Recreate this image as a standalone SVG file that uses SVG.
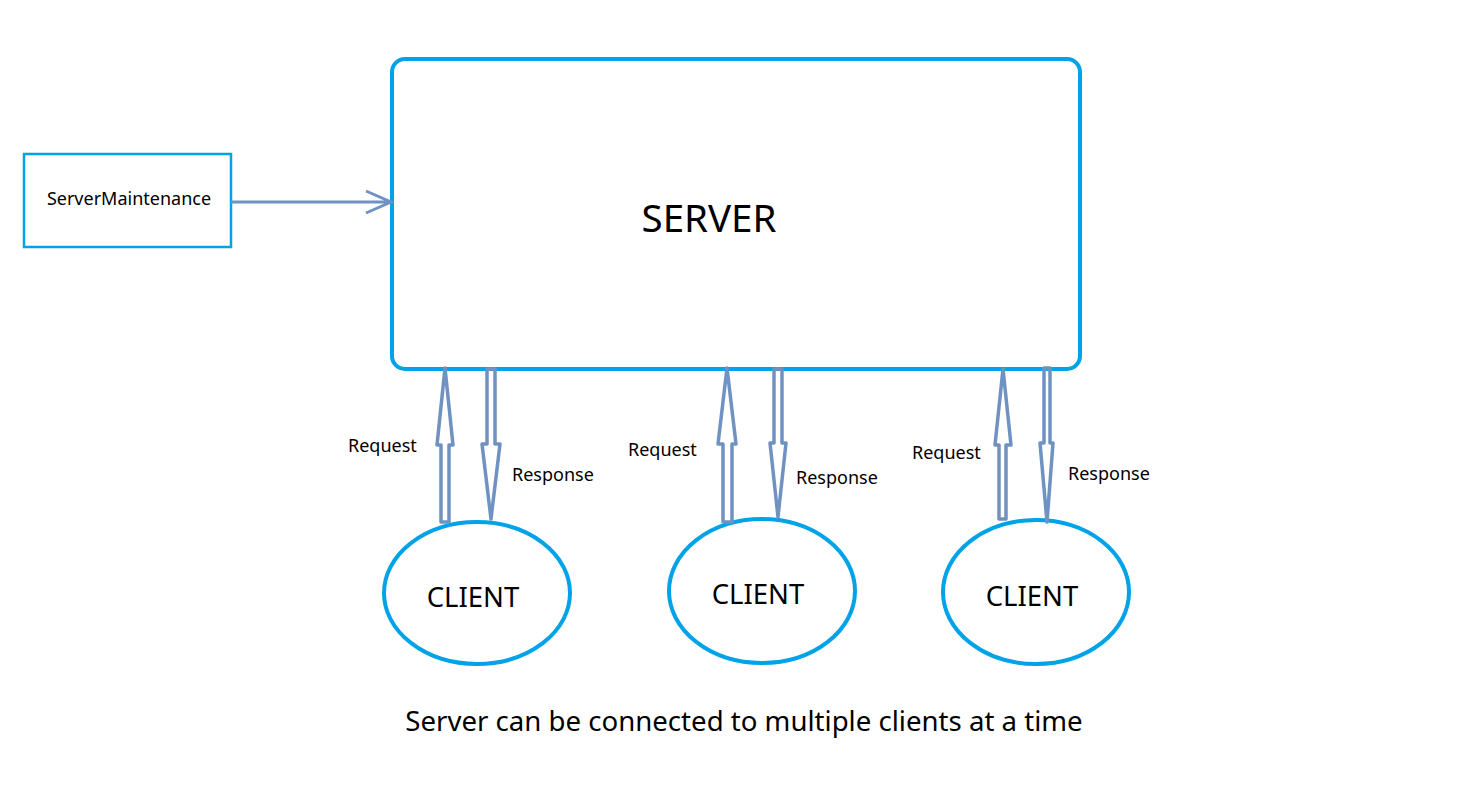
<svg xmlns="http://www.w3.org/2000/svg" width="1468" height="806" viewBox="0 0 1468 806">
<style>
.blue{fill:none;stroke:#00A2E8;stroke-width:4}
.arr{fill:none;stroke:#7092C2;stroke-width:3.5;stroke-linejoin:round}
.t{font-family:"Noto Sans","Open Sans",sans-serif;fill:#000}
.lbl{font-size:18px}
</style>
<rect width="1468" height="806" fill="#fff"/>
<g id="server">
<rect class="blue" x="392" y="59" width="688" height="310" rx="13"/>
<text class="t" x="709" y="232" font-size="38.5" text-anchor="middle">SERVER</text>
</g>
<g id="maintenance">
<rect x="24" y="154" width="207" height="93" fill="none" stroke="#00A2E8" stroke-width="2.5"/>
<text class="t" x="129" y="205" font-size="18" text-anchor="middle">ServerMaintenance</text>
</g>
<g id="client1">
<ellipse class="blue" cx="477" cy="593" rx="93" ry="71"/>
<text class="t" x="473" y="607" font-size="27.5" text-anchor="middle">CLIENT</text>
</g>
<g id="client2">
<ellipse class="blue" cx="762" cy="591" rx="93" ry="72"/>
<text class="t" x="758" y="604" font-size="27.5" text-anchor="middle">CLIENT</text>
</g>
<g id="client3">
<ellipse class="blue" cx="1036" cy="592" rx="93" ry="72"/>
<text class="t" x="1032" y="606" font-size="27.5" text-anchor="middle">CLIENT</text>
</g>
<g id="connectors">
<path d="M231 202 H391 M366 191 L391 202 L366 213" fill="none" stroke="#7092C2" stroke-width="3"/>
<path class="arr" d="M441 522 V445 H437 L445 368 L453 445 H449 V522 Z"/>
<path class="arr" d="M487 369 V444 H482 L491 519 L500 444 H495 V369 Z"/>
<path class="arr" d="M723 522 V444 H718 L727 368 L736 444 H732 V522 Z"/>
<path class="arr" d="M774 369 V443 H770 L778 517 L786 443 H782 V369 Z"/>
<path class="arr" d="M999 519 V445 H995 L1003 369 L1011 445 H1006 V519 Z"/>
<path class="arr" d="M1044 368 V443 H1040 L1047 522 L1053 443 H1050 V368 Z"/>
</g>
<g id="labels">
<text class="t lbl" x="348" y="452">Request</text>
<text class="t lbl" x="512" y="481">Response</text>
<text class="t lbl" x="628" y="456">Request</text>
<text class="t lbl" x="796" y="484">Response</text>
<text class="t lbl" x="912" y="459">Request</text>
<text class="t lbl" x="1068" y="480">Response</text>
<text class="t" x="744" y="731" font-size="27.6" text-anchor="middle">Server can be connected to multiple clients at a time</text>
</g>
</svg>
